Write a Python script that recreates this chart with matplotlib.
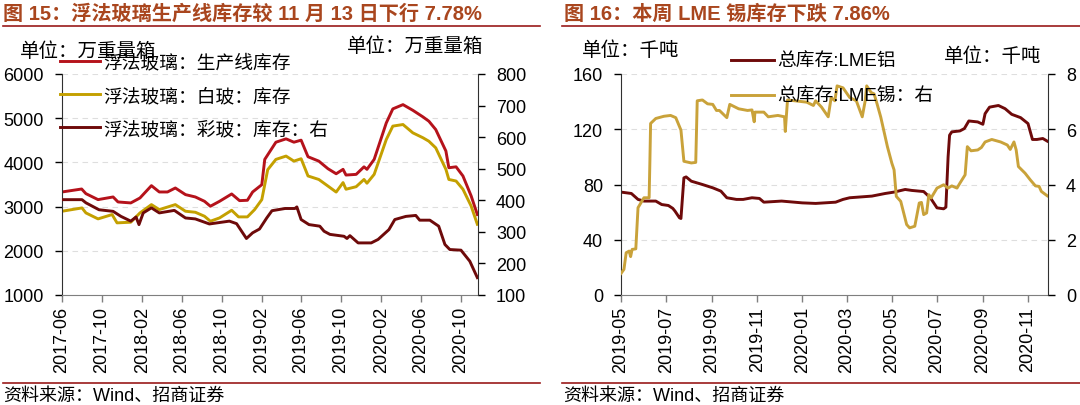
import pandas as pd
import matplotlib
matplotlib.use("Agg")
import matplotlib.pyplot as plt
import matplotlib.dates as mdates
from matplotlib.lines import Line2D

plt.rcParams['font.family'] = ['Liberation Sans', 'Noto Sans CJK SC', 'DejaVu Sans']

# ---------------- 图15 data (万重量箱) ----------------
line_dates = ["2017-06-01", "2017-07-31", "2017-08-13", "2017-09-19", "2017-11-04", "2017-11-19",
              "2017-12-28", "2018-01-25", "2018-03-01", "2018-03-25", "2018-04-19", "2018-05-13",
              "2018-06-13", "2018-07-13", "2018-08-10", "2018-08-28", "2018-09-25", "2018-11-01",
              "2018-11-25", "2018-12-19", "2019-01-04", "2019-02-01", "2019-02-10", "2019-03-16",
              "2019-04-16", "2019-05-10", "2019-06-01", "2019-06-22", "2019-07-25", "2019-08-22",
              "2019-09-16", "2019-10-07", "2019-10-16", "2019-11-16", "2019-12-10", "2019-12-19",
              "2020-01-10", "2020-02-16", "2020-03-07", "2020-04-07", "2020-05-07", "2020-06-07",
              "2020-06-25", "2020-07-16", "2020-08-16", "2020-08-25", "2020-09-16", "2020-10-07",
              "2020-11-01", "2020-11-20"]
line_stock = [3331, 3398, 3293, 3158, 3218, 3105, 3083, 3195, 3474, 3331, 3331, 3421,
              3271, 3218, 3120, 3008, 3120, 3286, 3135, 3143, 3331, 3496, 4068, 4457,
              4533, 4457, 4503, 4128, 4029, 3857, 3743, 3843, 3714, 3729, 3900, 3843,
              4068, 4893, 5211, 5307, 5179, 5029, 4932, 4743, 4257, 3879, 3900, 3693,
              3243, 2820]

white_dates = ["2017-06-01", "2017-08-01", "2017-08-13", "2017-09-19", "2017-11-01", "2017-11-16",
               "2017-12-28", "2018-01-25", "2018-03-01", "2018-03-25", "2018-05-13", "2018-06-13",
               "2018-07-13", "2018-08-10", "2018-08-28", "2018-09-25", "2018-11-01", "2018-11-22",
               "2018-12-19", "2019-01-10", "2019-02-01", "2019-02-19", "2019-03-16", "2019-04-16",
               "2019-05-10", "2019-06-01", "2019-06-22", "2019-07-25", "2019-08-22", "2019-09-16",
               "2019-10-07", "2019-10-16", "2019-11-16", "2019-12-10", "2019-12-19", "2020-01-10",
               "2020-02-16", "2020-03-07", "2020-04-07", "2020-05-07", "2020-06-07", "2020-06-25",
               "2020-07-16", "2020-08-16", "2020-08-25", "2020-09-16", "2020-10-07", "2020-11-01",
               "2020-11-20"]
white_stock = [2895, 2970, 2857, 2722, 2820, 2632, 2647, 2857, 3045, 2932, 3045, 2895,
               2872, 2782, 2669, 2744, 2917, 2767, 2767, 2932, 3158, 3835, 4068, 4143,
               4029, 4083, 3693, 3614, 3464, 3329, 3543, 3393, 3450, 3614, 3529, 3729,
               4518, 4821, 4857, 4669, 4557, 4479, 4329, 3843, 3614, 3579, 3393, 3014,
               2600]

color_dates = ["2017-06-01", "2017-08-01", "2017-08-13", "2017-09-22", "2017-11-04", "2017-11-28",
               "2017-12-28", "2018-01-13", "2018-01-22", "2018-02-04", "2018-03-01", "2018-03-25",
               "2018-05-10", "2018-06-13", "2018-07-13", "2018-08-25", "2018-10-25", "2018-11-16",
               "2018-12-16", "2019-01-04", "2019-01-25", "2019-02-16", "2019-03-04", "2019-04-13",
               "2019-05-13", "2019-05-19", "2019-06-01", "2019-06-25", "2019-07-28", "2019-08-10",
               "2019-08-28", "2019-10-10", "2019-10-19", "2019-10-28", "2019-11-22", "2020-01-01",
               "2020-01-22", "2020-02-24", "2020-03-13", "2020-04-16", "2020-05-16", "2020-05-28",
               "2020-06-28", "2020-07-25", "2020-08-13", "2020-08-28", "2020-10-01", "2020-10-28",
               "2020-11-20"]
color_stock = [402, 402, 392, 370, 365, 349, 334, 347, 323, 360, 376, 360,
               368, 344, 341, 325, 334, 326, 279, 297, 309, 344, 367, 374,
               374, 379, 339, 323, 318, 302, 292, 286, 279, 288, 265, 265,
               276, 307, 339, 349, 352, 337, 337, 318, 260, 244, 242, 207,
               155]

# ---------------- 图16 data (千吨) ----------------
al_dates = ["2019-05-01", "2019-05-15", "2019-05-24", "2019-06-01", "2019-06-17", "2019-06-25",
            "2019-07-04", "2019-07-10", "2019-07-13", "2019-07-19", "2019-07-21", "2019-07-25",
            "2019-07-28", "2019-08-04", "2019-08-19", "2019-09-02", "2019-09-13", "2019-09-21",
            "2019-10-04", "2019-10-13", "2019-10-25", "2019-11-04", "2019-11-10", "2019-12-04",
            "2020-01-01", "2020-01-19", "2020-02-15", "2020-02-25", "2020-03-05", "2020-04-04",
            "2020-04-22", "2020-05-04", "2020-05-19", "2020-05-28", "2020-06-13", "2020-06-22",
            "2020-07-01", "2020-07-10", "2020-07-13", "2020-07-16", "2020-07-18", "2020-07-21",
            "2020-08-01", "2020-08-07", "2020-08-13", "2020-08-25", "2020-09-01", "2020-09-04",
            "2020-09-10", "2020-09-22", "2020-10-01", "2020-10-10", "2020-10-22", "2020-11-01",
            "2020-11-07", "2020-11-13", "2020-11-21", "2020-11-27"]
al_stock = [74.5, 73.5, 69.2, 68.0, 68.0, 65.5, 64.8, 62.7, 60.7, 55.9, 55.4, 84.8,
            85.5, 82.4, 80.0, 77.6, 75.2, 70.4, 69.2, 69.2, 70.4, 69.9, 67.2, 68.0,
            66.7, 66.3, 67.2, 69.2, 70.4, 71.6, 73.5, 74.5, 76.4, 75.7, 74.9, 70.4,
            63.1, 62.4, 63.6, 100.0, 115.7, 118.1, 118.8, 120.5, 126.0, 125.3, 123.6, 131.3,
            136.0, 137.2, 134.9, 130.8, 128.4, 124.1, 112.6, 112.6, 113.3, 111.4]

tin_dates = ["2019-05-01", "2019-05-05", "2019-05-08", "2019-05-12", "2019-05-14", "2019-05-16",
             "2019-05-21", "2019-05-24", "2019-06-01", "2019-06-08", "2019-06-09", "2019-06-10",
             "2019-06-17", "2019-06-28", "2019-07-07", "2019-07-14", "2019-07-21", "2019-07-25",
             "2019-08-04", "2019-08-10", "2019-08-12", "2019-08-19", "2019-08-26", "2019-09-02",
             "2019-09-07", "2019-09-11", "2019-09-21", "2019-09-25", "2019-10-07", "2019-10-19",
             "2019-10-25", "2019-10-28", "2019-10-29", "2019-11-10", "2019-11-16", "2019-11-29",
             "2019-12-08", "2019-12-09", "2019-12-12", "2019-12-22", "2020-01-07", "2020-01-16",
             "2020-01-19", "2020-01-27", "2020-02-05", "2020-02-09", "2020-02-14", "2020-02-17",
             "2020-02-25", "2020-03-05", "2020-03-14", "2020-03-22", "2020-03-26", "2020-03-28",
             "2020-04-03", "2020-04-07", "2020-04-11", "2020-04-16", "2020-04-25", "2020-05-01",
             "2020-05-04", "2020-05-07", "2020-05-13", "2020-05-21", "2020-05-25", "2020-06-01",
             "2020-06-07", "2020-06-10", "2020-06-13", "2020-06-17", "2020-06-20", "2020-06-23",
             "2020-07-01", "2020-07-10", "2020-07-16", "2020-07-21", "2020-07-28", "2020-08-01",
             "2020-08-08", "2020-08-11", "2020-08-16", "2020-08-25", "2020-08-30", "2020-09-04",
             "2020-09-13", "2020-09-25", "2020-10-04", "2020-10-08", "2020-10-13", "2020-10-16",
             "2020-10-19", "2020-10-28", "2020-11-04", "2020-11-11", "2020-11-16", "2020-11-19",
             "2020-11-27"]
tin_stock = [0.78, 0.93, 1.53, 1.59, 1.39, 1.65, 1.67, 3.16, 3.52, 3.52, 4.78, 6.21,
             6.39, 6.47, 6.50, 6.42, 5.97, 4.84, 4.78, 4.80, 7.03, 7.06, 6.92, 6.90,
             6.68, 6.68, 6.42, 6.90, 6.74, 6.68, 6.70, 6.27, 6.62, 6.62, 6.45, 6.50,
             6.45, 5.92, 7.06, 7.03, 6.98, 6.86, 7.03, 6.80, 6.45, 7.15, 7.03, 7.57,
             7.50, 7.15, 7.03, 6.45, 7.03, 7.57, 7.33, 7.28, 6.92, 6.44, 5.37, 4.77,
             4.53, 3.57, 3.39, 2.55, 2.43, 2.49, 3.33, 3.35, 2.91, 2.97, 3.63, 3.51,
             3.87, 3.99, 3.87, 3.95, 3.87, 4.05, 4.35, 5.37, 5.22, 5.25, 5.34, 5.54,
             5.63, 5.54, 5.43, 5.27, 5.54, 5.25, 4.65, 4.41, 4.17, 3.95, 3.93, 3.75,
             3.59]

RED = "#B5121B"
GOLD = "#C4A000"
DARK = "#6E0A0A"
TAN = "#C9A23A"
TITLE_C = "#A9461E"
RULE_C = "#9A1A1A"
W, H = 1080, 406

fig = plt.figure(figsize=(10.8, 4.06), dpi=100)


def fx(px):
    return px / W


def fy(py):
    return 1 - py / H


def style_axes(ax, ax2):
    for a in (ax, ax2):
        a.spines['top'].set_visible(False)
        a.tick_params(labelsize=13, length=5, width=1, colors='black', pad=8)
    ax.spines['left'].set_color('#303030')
    ax2.spines['right'].set_color('#303030')
    ax.spines['bottom'].set_color('#7f7f7f')
    ax2.spines['bottom'].set_visible(False)
    ax2.spines['left'].set_visible(False)
    ax.spines['right'].set_visible(False)
    ax.yaxis.grid(True, linestyle=(0, (5, 4)), color='#dedede', linewidth=0.8)
    ax.set_axisbelow(True)
    ax.tick_params(axis='x', colors='#7f7f7f', labelcolor='black', pad=3)
    ax.xaxis.set_major_formatter(mdates.DateFormatter('%Y-%m'))
    for lab in ax.get_xticklabels():
        lab.set_rotation(90)


# ================= 图15 =================
ax = fig.add_axes([fx(62), fy(296), fx(478 - 62), fy(75) - fy(296)])
ax2 = ax.twinx()
l1, = ax.plot(pd.to_datetime(line_dates), line_stock, color=RED, lw=2.1)
l2, = ax.plot(pd.to_datetime(white_dates), white_stock, color=GOLD, lw=2.1)
l3, = ax2.plot(pd.to_datetime(color_dates), color_stock, color=DARK, lw=2.1)
ax.set_ylim(1000, 6000)
ax.set_yticks(range(1000, 6001, 1000))
ax2.set_ylim(100, 800)
ax2.set_yticks(range(100, 801, 100))
ax.set_xlim(pd.Timestamp("2017-06-01"), pd.Timestamp("2020-11-22"))
ax.set_xticks(pd.date_range("2017-06-01", "2020-10-01", freq="4MS"))
style_axes(ax, ax2)

fig.text(fx(20), fy(52), "单位：万重量箱", fontsize=14, va='center', ha='left')
fig.text(fx(347), fy(47), "单位：万重量箱", fontsize=14, va='center', ha='left')
fig.legend([l1, l2, l3], ["浮法玻璃：生产线库存", "浮法玻璃：白玻：库存", "浮法玻璃：彩玻：库存：右"],
           loc='upper left', bbox_to_anchor=(fx(60), fy(55)), frameon=False, fontsize=13.5,
           handlelength=2.15, handletextpad=0.18, labelspacing=0.82, borderpad=0, borderaxespad=0)

# ================= 图16 =================
bx = fig.add_axes([fx(621), fy(296), fx(1048 - 621), fy(75) - fy(296)])
bx2 = bx.twinx()
m1, = bx.plot(pd.to_datetime(al_dates), al_stock, color=DARK, lw=2.1)
m2, = bx2.plot(pd.to_datetime(tin_dates), tin_stock, color=TAN, lw=2.1)
bx.set_ylim(0, 160)
bx.set_yticks(range(0, 161, 40))
bx2.set_ylim(0, 8)
bx2.set_yticks(range(0, 9, 2))
bx.set_xlim(pd.Timestamp("2019-05-01"), pd.Timestamp("2020-11-28"))
bx.set_xticks(pd.date_range("2019-05-01", "2020-11-01", freq="2MS"))
style_axes(bx, bx2)

fig.text(fx(582), fy(51), "单位：千吨", fontsize=14, va='center', ha='left')
fig.text(fx(944), fy(57), "单位：千吨", fontsize=14, va='center', ha='left')
fig.legend([m1, m2], ["总库存:LME铝", "总库存:LME锡：右"],
           loc='upper left', bbox_to_anchor=(fx(731), fy(54)), frameon=False, fontsize=13.5,
           handlelength=2.3, handletextpad=0.18, labelspacing=0.95, borderpad=0, borderaxespad=0)

# ================= titles, rules, sources =================
fig.text(fx(3), fy(14), "图 15：浮法玻璃生产线库存较 11 月 13 日下行 7.78%", fontsize=14.5,
         fontweight='bold', color=TITLE_C, va='center', ha='left')
fig.text(fx(564), fy(14), "图 16：本周 LME 锡库存下跌 7.86%", fontsize=14.5,
         fontweight='bold', color=TITLE_C, va='center', ha='left')
for x0, x1 in [(3, 540), (562, 1080)]:
    fig.add_artist(Line2D([fx(x0), fx(x1)], [fy(27), fy(27)], color=RULE_C, lw=1.2))
    fig.add_artist(Line2D([fx(x0), fx(x1)], [fy(384), fy(384)], color=RULE_C, lw=1.2))
fig.text(fx(3), fy(396), "资料来源：Wind、招商证券", fontsize=13, va='center', ha='left')
fig.text(fx(563), fy(396), "资料来源：Wind、招商证券", fontsize=13, va='center', ha='left')

fig.savefig("out.png", dpi=100)
